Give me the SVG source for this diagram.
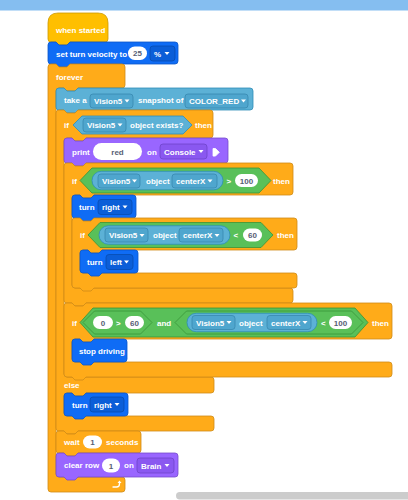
<svg xmlns="http://www.w3.org/2000/svg" width="408" height="500" viewBox="0 0 408 500">
<defs>
<style>
.t{font-family:"Liberation Sans",Arial,sans-serif;font-size:8px;font-weight:bold;fill:#fff}
.v{fill:#575E75;text-anchor:middle}
.ctl{fill:#FFAB19;stroke:#CF8B17;stroke-width:0.8}
.evt{fill:#FFBF00;stroke:#CC9900;stroke-width:0.8}
.drv{fill:#0F6CF5;stroke:#0A55C8;stroke-width:0.8}
.drvd{fill:#0B5ED8;stroke:#084CB0;stroke-width:0.8}
.lok{fill:#9966FF;stroke:#774DCB;stroke-width:0.8}
.lokd{fill:#8A58F0;stroke:#6F45C9;stroke-width:0.8}
.sen{fill:#5CB1D6;stroke:#2E8EB8;stroke-width:0.8}
.send{fill:#4FA6CE;stroke:#3889B0;stroke-width:0.8}
.op{fill:#59C059;stroke:#389438;stroke-width:0.8}
.w{fill:#fff}
</style>
<path id="dd" d="M0,0h5l-2.5,3z" fill="#fff"/>
</defs>
<rect width="408" height="500" fill="#fff"/>
<rect id="topbar" x="0" y="0" width="408" height="10.5" fill="#85BEF0"/>

<g id="when-started">
<path class="evt" d="M48,39 V23 Q48,13 58,13 H98 Q108,13 108,23 V39 q0,3 -3,3 H70 l-3,3 h-8 l-3,-3 H51 q-3,0 -3,-3 Z"/>
<text class="t" x="56" y="33">when started</text>
</g>

<g id="set-turn-velocity">
<path class="drv" d="M48,45 q0,-3 3,-3 h5 l3,3 h8 l3,-3 H175 q3,0 3,3 V61 q0,3 -3,3 H70 l-3,3 h-8 l-3,-3 H51 q-3,0 -3,-3 Z"/>
<text class="t" x="56" y="56.5">set turn velocity to</text>
<rect class="w" x="128" y="46.5" width="19" height="13.5" rx="6.75"/>
<text class="t v" x="137.5" y="56">25</text>
<rect class="drvd" x="150" y="46" width="25" height="15" rx="3"/>
<text class="t" x="154" y="56.5">%</text>
<use href="#dd" x="164.5" y="52"/>
</g>

<g id="forever">
<path class="ctl" d="M48,67 q0,-3 3,-3 h5 l3,3 h8 l3,-3 H122 q3,0 3,3 V85 q0,3 -3,3 H78 l-3,3 h-8 l-3,-3 H59 q-3,0 -3,3 V474 q0,3 3,3 H122 q3,0 3,3 V489 q0,3 -3,3 H51 q-3,0 -3,-3 Z"/>
<text class="t" x="56" y="79.5">forever</text>
<path d="M113,487 h3.5 q3,0 3,-3 v-1" fill="none" stroke="#fff" stroke-width="1.3" stroke-linecap="round"/>
<path d="M117.5,483 l2,-2.5 l2,2.5 z" fill="#fff"/>
</g>

<g id="take-snapshot">
<path class="sen" d="M56,91 q0,-3 3,-3 h5 l3,3 h8 l3,-3 H250 q3,0 3,3 V107 q0,3 -3,3 H78 l-3,3 h-8 l-3,-3 H59 q-3,0 -3,-3 Z"/>
<text class="t" x="64" y="102.5">take a</text>
<rect class="send" x="90" y="94" width="43" height="14" rx="3"/>
<text class="t" x="94" y="103.5">Vision5</text>
<use href="#dd" x="124.5" y="99.5"/>
<text class="t" x="138" y="102.5">snapshot of</text>
<rect class="send" x="185" y="94" width="63" height="14" rx="3"/>
<text class="t" x="189" y="103.5">COLOR_RED</text>
<use href="#dd" x="241" y="99.5"/>
</g>

<g id="if-object-exists">
<path class="ctl" d="M56,113 q0,-3 3,-3 h5 l3,3 h8 l3,-3 H210 q3,0 3,3 V135 q0,3 -3,3 H86 l-3,3 h-8 l-3,-3 H67 q-3,0 -3,3 V374 q0,3 3,3 H211 q3,0 3,3 V390 q0,3 -3,3 H86 l-3,3 h-8 l-3,-3 H67 q-3,0 -3,3 V413 q0,3 3,3 H211 q3,0 3,3 V428 q0,3 -3,3 H78 l-3,3 h-8 l-3,-3 H59 q-3,0 -3,-3 Z"/>
<text class="t" x="64" y="128">if</text>
<path class="sen" d="M73,125 L82,116 H183 L192,125 L183,134 H82 Z"/>
<rect class="send" x="83" y="118" width="43" height="14" rx="3"/>
<text class="t" x="87" y="127.5">Vision5</text>
<use href="#dd" x="117.5" y="123.5"/>
<text class="t" x="130" y="128">object exists?</text>
<text class="t" x="195" y="128">then</text>
<text class="t" x="64" y="388">else</text>
</g>

<g id="print">
<path class="lok" d="M64,141 q0,-3 3,-3 h5 l3,3 h8 l3,-3 H225 q3,0 3,3 V160 q0,3 -3,3 H86 l-3,3 h-8 l-3,-3 H67 q-3,0 -3,-3 Z"/>
<text class="t" x="72" y="155">print</text>
<rect class="w" x="93" y="143" width="49" height="17" rx="8.5"/>
<text class="t v" x="117.5" y="154.5">red</text>
<text class="t" x="147" y="155">on</text>
<rect class="lokd" x="160" y="144" width="47" height="15" rx="3"/>
<text class="t" x="164" y="154.5">Console</text>
<use href="#dd" x="198.5" y="150"/>
<path d="M213,148.5 h2.5 l3.8,3.8 l-3.8,3.8 h-2.5 z" fill="#fff" stroke="#fff" stroke-width="0.8" stroke-linejoin="round"/>
</g>

<g id="if-centerx-gt-100">
<path class="ctl" d="M64,166 q0,-3 3,-3 h5 l3,3 h8 l3,-3 H290 q3,0 3,3 V192 q0,3 -3,3 H94 l-3,3 h-8 l-3,-3 H75 q-3,0 -3,3 V285 q0,3 3,3 H290 q3,0 3,3 V300 q0,3 -3,3 H86 l-3,3 h-8 l-3,-3 H67 q-3,0 -3,-3 Z"/>
<text class="t" x="72" y="183.5">if</text>
<path class="op" d="M80,180.5 L92,168 H259 L271,180.5 L259,193 H92 Z"/>
<rect class="sen" x="92" y="171.3" width="131" height="18.5" rx="9.25"/>
<rect class="send" x="98" y="174" width="42" height="14" rx="3"/>
<text class="t" x="102" y="183.5">Vision5</text>
<use href="#dd" x="132" y="179.5"/>
<text class="t" x="146" y="183.5">object</text>
<rect class="send" x="172" y="174" width="45" height="14" rx="3"/>
<text class="t" x="176" y="183.5">centerX</text>
<use href="#dd" x="207.5" y="179.5"/>
<text class="t" x="226.5" y="183.5">&gt;</text>
<rect class="w" x="235" y="174" width="23" height="13" rx="6.5"/>
<text class="t v" x="246.5" y="183.5">100</text>
<text class="t" x="273" y="183.5">then</text>
</g>

<g id="turn-right-1">
<path class="drv" d="M72,198 q0,-3 3,-3 h5 l3,3 h8 l3,-3 H133 q3,0 3,3 V215 q0,3 -3,3 H94 l-3,3 h-8 l-3,-3 H75 q-3,0 -3,-3 Z"/>
<text class="t" x="79" y="210">turn</text>
<rect class="drvd" x="98" y="199.5" width="34" height="15" rx="3"/>
<text class="t" x="102" y="210">right</text>
<use href="#dd" x="122.5" y="205.5"/>
</g>

<g id="if-centerx-lt-60">
<path class="ctl" d="M72,221 q0,-3 3,-3 h5 l3,3 h8 l3,-3 H294 q3,0 3,3 V247 q0,3 -3,3 H102 l-3,3 h-8 l-3,-3 H83 q-3,0 -3,3 V270 q0,3 3,3 H294 q3,0 3,3 V285 q0,3 -3,3 H94 l-3,3 h-8 l-3,-3 H75 q-3,0 -3,-3 Z"/>
<text class="t" x="80" y="238">if</text>
<path class="op" d="M88,235 L100,222.5 H261 L273,235 L261,247.5 H100 Z"/>
<rect class="sen" x="99" y="225.75" width="131" height="18.5" rx="9.25"/>
<rect class="send" x="105" y="228" width="43" height="14" rx="3"/>
<text class="t" x="109" y="238">Vision5</text>
<use href="#dd" x="139.5" y="234"/>
<text class="t" x="153" y="238">object</text>
<rect class="send" x="179" y="228" width="44" height="14" rx="3"/>
<text class="t" x="183" y="238">centerX</text>
<use href="#dd" x="214.5" y="234"/>
<text class="t" x="233.5" y="238">&lt;</text>
<rect class="w" x="243" y="228.5" width="19" height="13" rx="6.5"/>
<text class="t v" x="252.5" y="238">60</text>
<text class="t" x="277" y="238">then</text>
</g>

<g id="turn-left">
<path class="drv" d="M80,253 q0,-3 3,-3 h5 l3,3 h8 l3,-3 H135 q3,0 3,3 V270 q0,3 -3,3 H102 l-3,3 h-8 l-3,-3 H83 q-3,0 -3,-3 Z"/>
<text class="t" x="87" y="265">turn</text>
<rect class="drvd" x="106" y="254.5" width="27" height="15" rx="3"/>
<text class="t" x="110" y="265">left</text>
<use href="#dd" x="124" y="260.5"/>
</g>

<g id="if-and">
<path class="ctl" d="M64,306 q0,-3 3,-3 h5 l3,3 h8 l3,-3 H389 q3,0 3,3 V336 q0,3 -3,3 H94 l-3,3 h-8 l-3,-3 H75 q-3,0 -3,3 V359 q0,3 3,3 H389 q3,0 3,3 V374 q0,3 -3,3 H86 l-3,3 h-8 l-3,-3 H67 q-3,0 -3,-3 Z"/>
<text class="t" x="72" y="325.5">if</text>
<path class="op" d="M80,322.5 L93,308 H355 L368,322.5 L355,337 H93 Z"/>
<path class="op" d="M83,322.5 L94.5,311 H140.5 L152,322.5 L140.5,334 H94.5 Z"/>
<rect class="w" x="93" y="316" width="20" height="13" rx="6.5"/>
<text class="t v" x="103" y="325.5">0</text>
<text class="t" x="116" y="325.5">&gt;</text>
<rect class="w" x="125" y="316" width="19" height="13" rx="6.5"/>
<text class="t v" x="134.5" y="325.5">60</text>
<text class="t" x="157" y="325.5">and</text>
<path class="op" d="M175,322.5 L186.5,311 H351.5 L363,322.5 L351.5,334 H186.5 Z"/>
<rect class="sen" x="187" y="313.25" width="130" height="18.5" rx="9.25"/>
<rect class="send" x="192" y="315.5" width="43" height="14" rx="3"/>
<text class="t" x="196" y="325.5">Vision5</text>
<use href="#dd" x="226.5" y="321"/>
<text class="t" x="239" y="325.5">object</text>
<rect class="send" x="267" y="315.5" width="44" height="14" rx="3"/>
<text class="t" x="271" y="325.5">centerX</text>
<use href="#dd" x="302.5" y="321"/>
<text class="t" x="321" y="325.5">&lt;</text>
<rect class="w" x="329" y="316" width="23" height="13" rx="6.5"/>
<text class="t v" x="340.5" y="325.5">100</text>
<text class="t" x="372" y="325.5">then</text>
</g>

<g id="stop-driving">
<path class="drv" d="M72,342 q0,-3 3,-3 h5 l3,3 h8 l3,-3 H124 q3,0 3,3 V359 q0,3 -3,3 H94 l-3,3 h-8 l-3,-3 H75 q-3,0 -3,-3 Z"/>
<text class="t" x="79" y="353.5">stop driving</text>
</g>

<g id="turn-right-2">
<path class="drv" d="M64,396 q0,-3 3,-3 h5 l3,3 h8 l3,-3 H125 q3,0 3,3 V413 q0,3 -3,3 H86 l-3,3 h-8 l-3,-3 H67 q-3,0 -3,-3 Z"/>
<text class="t" x="72" y="407.5">turn</text>
<rect class="drvd" x="90" y="397" width="34" height="15" rx="3"/>
<text class="t" x="94" y="407.5">right</text>
<use href="#dd" x="114.5" y="403"/>
</g>

<g id="wait">
<path class="ctl" d="M56,434 q0,-3 3,-3 h5 l3,3 h8 l3,-3 H138 q3,0 3,3 V450 q0,3 -3,3 H78 l-3,3 h-8 l-3,-3 H59 q-3,0 -3,-3 Z"/>
<text class="t" x="64" y="445">wait</text>
<rect class="w" x="83" y="435.5" width="19" height="13" rx="6.5"/>
<text class="t v" x="92.5" y="445">1</text>
<text class="t" x="106" y="445">seconds</text>
</g>

<g id="clear-row">
<path class="lok" d="M56,456 q0,-3 3,-3 h5 l3,3 h8 l3,-3 H175 q3,0 3,3 V474 q0,3 -3,3 H78 l-3,3 h-8 l-3,-3 H59 q-3,0 -3,-3 Z"/>
<text class="t" x="64" y="468">clear row</text>
<rect class="w" x="102" y="458.5" width="18" height="14" rx="7"/>
<text class="t v" x="111" y="468.5">1</text>
<text class="t" x="124" y="468">on</text>
<rect class="lokd" x="137" y="458" width="37" height="15" rx="3"/>
<text class="t" x="141" y="468.5">Brain</text>
<use href="#dd" x="164.5" y="464"/>
</g>

<rect id="scrollbar" x="176" y="492" width="240" height="7.5" rx="3.75" fill="#CCCCCC"/>
</svg>
